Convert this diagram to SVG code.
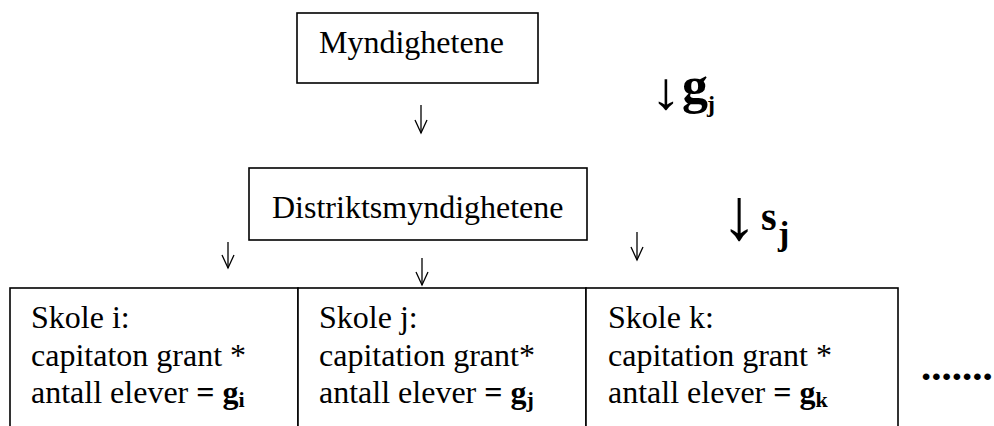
<svg xmlns="http://www.w3.org/2000/svg" width="994" height="426" viewBox="0 0 994 426">
  <style>
    .box { fill: #ffffff; stroke: #000000; stroke-width: 1.6; }
    .t { font-family: "Liberation Serif", "Times New Roman", serif; font-size: 32px; fill: #000000; }
    .b { font-weight: bold; }
    .sub { font-weight: bold; font-size: 22px; }
    .conn { fill: none; stroke: #000000; stroke-width: 1.3; }
    .lbl { font-family: "Liberation Serif", "Times New Roman", serif; fill: #000000; }
    .arr { font-family: "Liberation Serif", "Times New Roman", serif; fill: #000000; text-anchor: middle; }
  </style>
  <defs>
    <marker id="vhead" markerUnits="userSpaceOnUse" viewBox="0 0 13 12" refX="13" refY="6" markerWidth="13" markerHeight="12" orient="auto" overflow="visible">
      <path d="M0,0 L13,6 L0,12" fill="none" stroke="#000000" stroke-width="1.3"/>
    </marker>
  </defs>
  <rect width="994" height="426" fill="#ffffff"/>

  <g id="node-myndighetene">
    <rect class="box" x="297" y="13" width="241" height="70"/>
    <text class="t" x="319" y="53">Myndighetene</text>
  </g>

  <g id="node-distrikt">
    <rect class="box" x="249" y="168" width="338" height="72"/>
    <text class="t" x="272" y="218">Distriktsmyndighetene</text>
  </g>

  <g id="node-skole-i">
    <rect class="box" x="10" y="288" width="288" height="160"/>
    <text class="t" x="31" y="328">Skole i:</text>
    <text class="t" x="31" y="366">capitaton grant *</text>
    <text class="t" x="31" y="403">antall elever <tspan class="b">= g</tspan><tspan class="sub" dy="4">i</tspan></text>
  </g>

  <g id="node-skole-j">
    <rect class="box" x="298" y="288" width="288" height="160"/>
    <text class="t" x="319" y="328">Skole j:</text>
    <text class="t" x="319" y="366">capitation grant*</text>
    <text class="t" x="319" y="403">antall elever <tspan class="b">= g</tspan><tspan class="sub" dy="4">j</tspan></text>
  </g>

  <g id="node-skole-k">
    <rect class="box" x="586" y="288" width="312" height="160"/>
    <text class="t" x="608" y="328">Skole k:</text>
    <text class="t" x="608" y="366">capitation grant *</text>
    <text class="t" x="608" y="403">antall elever <tspan class="b">= g</tspan><tspan class="sub" dy="4">k</tspan></text>
  </g>

  <g id="connectors">
    <path class="conn" d="M421,105 L421,133" marker-end="url(#vhead)"/>
    <path class="conn" d="M228,242 L228,268" marker-end="url(#vhead)"/>
    <path class="conn" d="M422,258 L422,285" marker-end="url(#vhead)"/>
    <path class="conn" d="M637,232 L637,260" marker-end="url(#vhead)"/>
  </g>

  <g id="label-gj">
    <text class="arr" transform="translate(666,109) scale(1.4,1.2)" x="0" y="0" font-size="44">↓</text>
    <text class="lbl b" x="682" y="103" font-size="52">g</text>
    <text class="lbl b" x="707" y="112" font-size="24">j</text>
  </g>

  <g id="label-sj">
    <text class="arr" transform="translate(739,239) scale(1.3,1.3)" x="0" y="0" font-size="56">↓</text>
    <text class="lbl b" x="761" y="230" font-size="40">s</text>
    <text class="lbl b" x="778" y="245" font-size="34">j</text>
  </g>

  <g id="ellipsis">
    <text class="lbl b" x="921" y="380" font-size="41">.......</text>
  </g>
</svg>
